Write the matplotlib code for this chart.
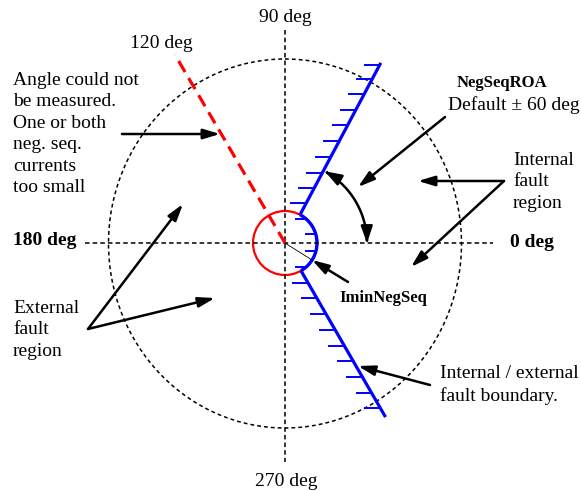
import numpy as np
import matplotlib.pyplot as plt
from matplotlib.patches import Ellipse, Arc, Circle, FancyArrowPatch
from matplotlib.path import Path

plt.rcParams['font.family'] = ['Liberation Serif', 'DejaVu Serif']

# geometry (pixel units, y down)
cx, cy = 285, 243
outer_w, outer_h = 353, 369
r_min = 32                      # IminNegSeq circle
roa_up, roa_low = 62, -60       # boundary angles (deg)
len_up, len_low = 204, 201
red_angle, red_len = 120.3, 218
roa_arc_r = 82

# hatch positions along the boundary (y of each tick)
hatch_y = [65, 79, 94, 110, 125, 141, 157, 173, 188, 203, 219, 234, 251,
           267, 283, 298, 314, 330, 346, 361, 377, 393, 408]

# arrows: (tail, tip)
arrows = [
    ((122, 134), (220, 134)),
    ((88, 329), (183, 204)),
    ((88, 329), (215, 298)),
    ((504, 181), (418, 181)),
    ((504, 181), (411, 267)),
    ((445, 117), (358, 187)),
    ((348, 282), (312, 260)),
    ((430, 385), (358, 366)),
]

# labels: (text, x, y, ha, size, weight)
labels = [
    ('90 deg', 285, 17, 'center', 14, 'normal'),
    ('120 deg', 161, 43, 'center', 14, 'normal'),
    ('180 deg', 13, 240, 'left', 14, 'bold'),
    ('0 deg', 510, 242, 'left', 14, 'bold'),
    ('270 deg', 286, 481, 'center', 14, 'normal'),
    ('NegSeqROA', 502, 83, 'center', 12, 'bold'),
    ('Default \u00b1 60 deg', 448, 105, 'left', 14, 'normal'),
    ('Internal\nfault\nregion', 513, 182, 'left', 14, 'normal'),
    ('Angle could not\nbe measured.\nOne or both\nneg. seq.\ncurrents\ntoo small', 13, 134, 'left', 14, 'normal'),
    ('External\nfault\nregion', 13, 330, 'left', 14, 'normal'),
    ('IminNegSeq', 383, 298, 'center', 12, 'bold'),
    ('Internal / external\nfault boundary.', 440, 385, 'left', 14, 'normal'),
]


def polar(r, a):
    t = np.radians(a)
    return cx + r * np.cos(t), cy - r * np.sin(t)


fig = plt.figure(figsize=(5.81, 4.91), dpi=100)
ax = fig.add_axes([0, 0, 1, 1])
ax.set_xlim(0, 581)
ax.set_ylim(491, 0)
ax.axis('off')

# axes cross
ax.plot([cx, cx], [30, 462], color='black', lw=1.1, dashes=(3, 2))
ax.plot([85, 493], [cy, cy], color='black', lw=1.1, dashes=(3, 2))

# outer circle
ax.add_patch(Ellipse((cx, cy + 0.5), outer_w, outer_h, fill=False,
                     ec='black', lw=1.1, ls=(0, (2.5, 2))))

# red undefined direction
x1, y1 = polar(red_len, red_angle)
ax.plot([cx, x1], [cy, y1], color='red', lw=2.3, dashes=(4, 2.2))

# small circle
ax.add_patch(Circle((cx, cy), r_min, fill=False, ec='red', lw=1.6))
ax.add_patch(Arc((cx, cy), 2 * r_min, 2 * r_min, theta1=-roa_up, theta2=-roa_low,
                 ec='blue', lw=2.4))

# boundary lines
for a, L in [(roa_up, len_up), (roa_low, len_low)]:
    xa, ya = polar(r_min, a)
    xb, yb = polar(L, a)
    ax.plot([xa, xb], [ya, yb], color='blue', lw=2.3, solid_capstyle='butt')

# hatches
for y in hatch_y:
    dy = cy - y
    if abs(dy) <= r_min * np.sin(np.radians(60)) - 1:
        x = cx + np.sqrt(r_min ** 2 - dy ** 2)
        ln = 10
    else:
        ang = roa_up if dy > 0 else roa_low
        x = cx + dy / np.tan(np.radians(ang))
        ln = 15
    ax.plot([x - ln, x], [y, y], color='blue', lw=1.4)

# thin radius line
ax.plot([cx, 312], [cy, 260], color='black', lw=0.6)

# ROA angle arc
th = np.linspace(0, roa_up - 1, 40)
verts = [polar(roa_arc_r, t) for t in th]
ax.add_patch(FancyArrowPatch(path=Path(verts), arrowstyle='<|-|>,head_length=1.0,head_width=0.35',
                             mutation_scale=10, lw=1.8, color='black'))

for tail, tip in arrows:
    ax.annotate('', xy=tip, xytext=tail,
                arrowprops=dict(arrowstyle='-|>,head_length=1.0,head_width=0.3',
                                mutation_scale=10, lw=1.8, color='black',
                                shrinkA=0, shrinkB=0))

for txt, x, y, ha, size, weight in labels:
    ax.text(x, y, txt, ha=ha, va='center', fontsize=size, fontweight=weight,
            linespacing=1.34)

fig.savefig('out.png', dpi=100)
